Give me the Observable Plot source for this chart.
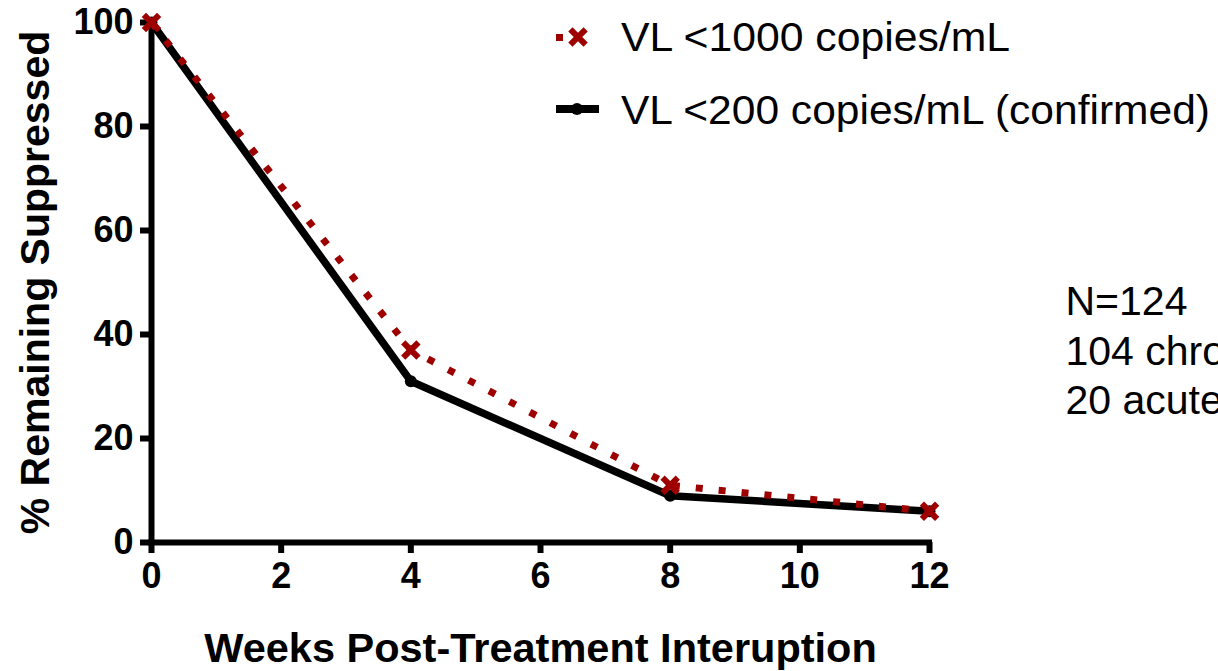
<!DOCTYPE html>
<html><head><meta charset="utf-8">
<script src="https://cdn.jsdelivr.net/npm/d3@7"></script>
<script src="https://cdn.jsdelivr.net/npm/@observablehq/plot@0.6"></script>
<style>
html,body{margin:0;padding:0;background:#fff;overflow:hidden;}
#wrap{position:relative;width:1218px;height:671px;}
</style></head><body><div id="wrap"></div>
<script>
const weeks = [0, 4, 8, 12];
const vl1000 = [100, 37, 11, 6];
const vl200 = [100, 31, 9, 6];
const seriesNames = ["VL <1000 copies/mL", "VL <200 copies/mL (confirmed)"];
const xTicks = [0, 2, 4, 6, 8, 10, 12];
const yTicks = [0, 20, 40, 60, 80, 100];
const xLabel = "Weeks Post-Treatment Interuption";
const yLabel = "% Remaining Suppressed";
const noteLines = ["N=124", "104 chronic", "20 acute"];

const red = "#9e0000";
const rows1000 = weeks.map((w, i) => ({week: w, pct: vl1000[i]}));
const rows200 = weeks.map((w, i) => ({week: w, pct: vl200[i]}));
const font = "'Liberation Sans', Arial, Helvetica, sans-serif";

const chart = Plot.plot({
  width: 1218, height: 671,
  marginLeft: 151, marginRight: 289, marginTop: 22, marginBottom: 129,
  style: {fontFamily: font, background: "#fff", color: "#000"},
  x: {domain: [0, 12]},
  y: {domain: [0, 100]},
  marks: [
    Plot.axisX({ticks: xTicks, tickSize: 11, tickPadding: 9, strokeWidth: 6, fontSize: 36, fontWeight: "bold", label: null}),
    Plot.axisY({ticks: yTicks, tickSize: 11, tickPadding: 7, strokeWidth: 6, fontSize: 36, fontWeight: "bold", label: null}),
    Plot.ruleX([0], {y1: 0, y2: 100, strokeWidth: 6, strokeLinecap: "square"}),
    Plot.ruleY([0], {x1: 0, x2: 12, strokeWidth: 6, strokeLinecap: "square"}),
    Plot.line(rows200, {x: "week", y: "pct", stroke: "#000", strokeWidth: 7.5, strokeLinejoin: "round"}),
    Plot.dot(rows200, {x: "week", y: "pct", r: 6, fill: "#000"}),
    Plot.line(rows1000, {x: "week", y: "pct", stroke: red, strokeWidth: 7, strokeLinecap: "butt", strokeLinejoin: "miter", strokeDasharray: "7,16"}),
    Plot.dot(rows1000, {x: "week", y: "pct", symbol: "times", r: 7, stroke: red, strokeWidth: 6}),
    Plot.text([xLabel], {text: d => d, frameAnchor: "bottom", dy: 106, lineAnchor: "middle", textAnchor: "middle", fontSize: 41.5, fontWeight: "bold"}),
    Plot.text([yLabel], {text: d => d, frameAnchor: "left", dx: -116, rotate: -90, lineAnchor: "middle", textAnchor: "middle", fontSize: 41, fontWeight: "bold"}),
    Plot.text([noteLines.join("\n")], {text: d => d, frameAnchor: "top-right", dx: 136, dy: 258, textAnchor: "start", lineAnchor: "top", lineHeight: 1.2, fontSize: 41})
  ]
});
document.getElementById("wrap").appendChild(chart);

// legend
const svg = d3.select(chart);
const lg = svg.append("g").attr("font-family", font).attr("font-size", 41).attr("text-anchor", "start");
// row 1
lg.append("rect").attr("x", 556).attr("y", 34).attr("width", 7).attr("height", 7).attr("fill", red);
lg.append("path").attr("transform", "translate(578,37)").attr("d", d3.symbol(d3.symbolTimes, Math.PI * 49)())
  .attr("stroke", red).attr("stroke-width", 6).attr("fill", "none");
lg.append("text").attr("x", 621).attr("y", 51).attr("textLength", 389).attr("lengthAdjust", "spacingAndGlyphs").text(seriesNames[0]);
// row 2
lg.append("line").attr("x1", 556).attr("x2", 599).attr("y1", 109).attr("y2", 109).attr("stroke", "#000").attr("stroke-width", 8);
lg.append("circle").attr("cx", 577).attr("cy", 109).attr("r", 6).attr("fill", "#000");
lg.append("text").attr("x", 621).attr("y", 124).attr("textLength", 589).attr("lengthAdjust", "spacingAndGlyphs").text(seriesNames[1]);
</script></body></html>
